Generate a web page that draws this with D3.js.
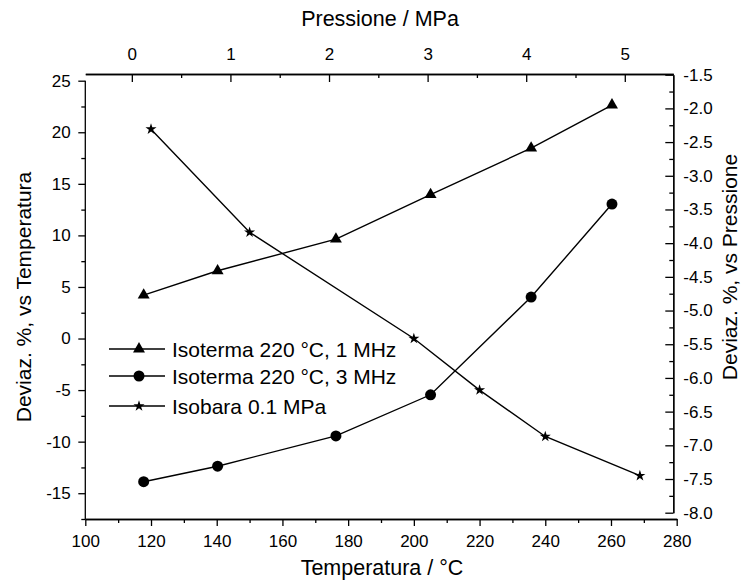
<!DOCTYPE html>
<html>
<head>
<meta charset="utf-8">
<script src="https://cdn.jsdelivr.net/npm/d3@7"></script>
<style>
  body { margin: 0; background: #fff; }
  svg text { font-family: "Liberation Sans", Arial, sans-serif; fill: #000; }
</style>
</head>
<body>
<div id="chart"></div>
<script>
// isotherm series, plotted vs pressure (top axis) and right axis
var pressione = [0.12, 0.87, 2.07, 3.03, 4.05, 4.87];
var iso1MHz = [-4.77, -4.41, -3.94, -3.28, -2.59, -1.95];
var iso3MHz = [-7.54, -7.31, -6.86, -6.25, -4.80, -3.42];
// isobar series, plotted vs temperature (bottom axis) and left axis
var temperatura = [120, 150, 200, 220, 240, 268.8];
var isobara = [20.3, 10.3, 0.0, -5.0, -9.5, -13.3];

var tempTicks = [100, 120, 140, 160, 180, 200, 220, 240, 260, 280];
var pressTicks = [0, 1, 2, 3, 4, 5];
var leftTicks = [-15, -10, -5, 0, 5, 10, 15, 20, 25];
var rightTicks = [-8, -7.5, -7, -6.5, -6, -5.5, -5, -4.5, -4, -3.5, -3, -2.5, -2, -1.5];

var legendLabels = ["Isoterma 220 °C, 1 MHz", "Isoterma 220 °C, 3 MHz", "Isobara 0.1 MPa"];

var svg = d3.select("#chart").append("svg")
    .attr("width", 742)
    .attr("height", 586);

// layer 1: temperature / left
var xT = d3.scaleLinear().domain([100, 280]).range([85.3, 676.7]);
var yL = d3.scaleLinear().domain([-17.5, 25]).range([519, 80.7]);
// layer 2: pressure / right
var xP = d3.scaleLinear().domain([-0.472, 5.492]).range([85.3, 673.3]);
var yR = d3.scaleLinear().domain([-8, -1.5]).range([512.7, 74.7]);

function styleAxis(g) {
  g.selectAll("path").attr("stroke", "#000").attr("stroke-width", 1.3);
  g.selectAll("line").attr("stroke", "#000").attr("stroke-width", 1.3);
  g.selectAll("text").style("font-size", "17px");
}

// minor ticks
svg.append("g").attr("transform", "translate(0,519)")
  .call(d3.axisBottom(xT).tickValues(d3.range(110, 280, 20)).tickSize(4).tickFormat("").tickSizeOuter(0))
  .call(styleAxis);
svg.append("g").attr("transform", "translate(85.3,0)")
  .call(d3.axisLeft(yL).tickValues(d3.range(-17.5, 25, 5)).tickSize(4).tickFormat("").tickSizeOuter(0))
  .call(styleAxis)
  .select("path").remove();
svg.append("g").attr("transform", "translate(0,74)")
  .call(d3.axisBottom(xP).tickValues([0.5, 1.5, 2.5, 3.5, 4.5]).tickSize(4).tickFormat("").tickSizeOuter(0))
  .call(styleAxis);
svg.append("g").attr("transform", "translate(673.3,0)")
  .call(d3.axisLeft(yR).tickValues(d3.range(-7.75, -1.5, 0.5)).tickSize(4).tickFormat("").tickSizeOuter(0))
  .call(styleAxis);

// major ticks + labels
svg.append("g").attr("transform", "translate(0,519)")
  .call(d3.axisBottom(xT).tickValues(tempTicks).tickSize(7).tickPadding(9).tickSizeOuter(0))
  .call(styleAxis);
var left = svg.append("g").attr("transform", "translate(85.3,0)")
  .call(d3.axisLeft(yL).tickValues(leftTicks).tickSize(7).tickPadding(7.6)
    .tickFormat(function(d) { return String(d); }).tickSizeOuter(0))
  .call(styleAxis);
left.select("path").attr("d", "M0," + yL(25) + "V519");
svg.append("g").attr("transform", "translate(0,74)")
  .call(d3.axisBottom(xP).tickValues(pressTicks).tickSize(8).tickFormat("").tickSizeOuter(0))
  .call(styleAxis);
svg.append("g").attr("transform", "translate(0,74)")
  .call(d3.axisTop(xP).tickValues(pressTicks).tickSize(0).tickPadding(14)
    .tickFormat(function(d) { return String(d); }).tickSizeOuter(0))
  .call(styleAxis)
  .select("path").remove();
svg.append("g").attr("transform", "translate(673.3,0)")
  .call(d3.axisLeft(yR).tickValues(rightTicks).tickSize(8).tickFormat("").tickSizeOuter(0))
  .call(styleAxis);
svg.append("g").attr("transform", "translate(673.3,0)")
  .call(d3.axisRight(yR).tickValues(rightTicks).tickSize(0).tickPadding(10)
    .tickFormat(function(d) { return d.toFixed(1); }).tickSizeOuter(0))
  .call(styleAxis)
  .select("path").remove();

// axis titles
svg.append("text").attr("x", 380).attr("y", 26).attr("text-anchor", "middle")
  .style("font-size", "21.5px").text("Pressione / MPa");
svg.append("text").attr("x", 382).attr("y", 575).attr("text-anchor", "middle")
  .style("font-size", "21.5px").text("Temperatura / °C");
svg.append("text").attr("transform", "translate(31,297) rotate(-90)").attr("text-anchor", "middle")
  .style("font-size", "21px").text("Deviaz. %, vs Temperatura");
svg.append("text").attr("transform", "translate(737,267) rotate(-90)").attr("text-anchor", "middle")
  .style("font-size", "21px").text("Deviaz. %, vs Pressione");

var tri = d3.symbol().type(d3.symbolTriangle).size(62);
var circ = d3.symbol().type(d3.symbolCircle).size(95);
var star = d3.symbol().type(d3.symbolStar).size(38);

function series(xs, ys, xScale, yScale, sym) {
  var pts = xs.map(function(v, i) { return [xScale(v), yScale(ys[i])]; });
  svg.append("path").datum(pts)
    .attr("fill", "none").attr("stroke", "#000").attr("stroke-width", 1.4)
    .attr("d", d3.line());
  svg.selectAll(null).data(pts).enter().append("path")
    .attr("transform", function(d) { return "translate(" + d[0] + "," + d[1] + ")"; })
    .attr("d", sym)
    .attr("fill", "#000");
}

series(pressione, iso1MHz, xP, yR, tri);
series(pressione, iso3MHz, xP, yR, circ);
series(temperatura, isobara, xT, yL, star);

// legend
var legendY = [349, 376, 406];
var syms = [tri, circ, star];
legendLabels.forEach(function(lab, i) {
  var g = svg.append("g").attr("transform", "translate(0," + legendY[i] + ")");
  g.append("line").attr("x1", 109).attr("x2", 165).attr("stroke", "#000").attr("stroke-width", 1.4);
  g.append("path").attr("d", syms[i]).attr("transform", "translate(139,0)").attr("fill", "#000");
  g.append("text").attr("x", 172).attr("y", 7.5).style("font-size", "21px").text(lab);
});
</script>
</body>
</html>
